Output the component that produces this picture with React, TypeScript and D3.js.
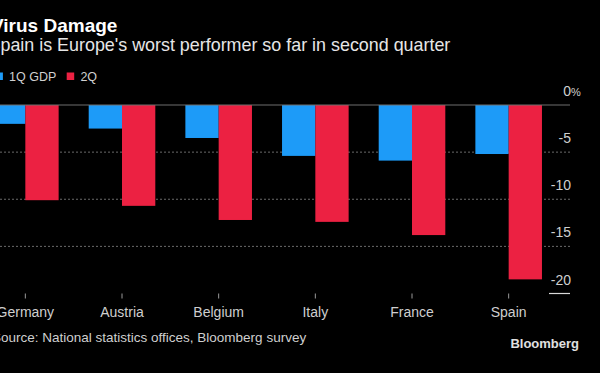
import React, { useEffect, useRef } from "react"
import * as d3 from "d3"

const countries = ["Germany", "Austria", "Belgium", "Italy", "France", "Spain"]
const seriesNames = ["1Q GDP", "2Q"]
const q1Values = [-2.0, -2.5, -3.5, -5.4, -5.9, -5.2]
const q2Values = [-10.1, -10.7, -12.2, -12.4, -13.8, -18.5]
const yTicks = [0, -5, -10, -15, -20]

const BLUE = "#1d9bf8"
const RED = "#ec2142"
const FONT = "'Liberation Sans', Arial, sans-serif"

const App = () => {
    const chartRef = useRef(null)

    useEffect(() => {
        document.body.style.margin = "0"
        renderChart()
        return () => {
            if (chartRef.current) d3.select(chartRef.current).selectAll("*").remove()
        }
    }, [])

    function renderChart() {
        if (!chartRef.current) return
        const width = 600
        const height = 373

        const svg = d3
            .select(chartRef.current)
            .append("svg")
            .attr("width", width)
            .attr("height", height)
            .style("display", "block")
            .style("background", "#000")
            .style("font-family", FONT)

        svg.append("rect").attr("width", width).attr("height", height).attr("fill", "#000")

        // header (the reference is cropped on the left, so text starts off-canvas)
        svg.append("text")
            .attr("x", -9)
            .attr("y", 31.5)
            .attr("fill", "#fff")
            .attr("font-size", "19px")
            .attr("font-weight", 700)
            .text("Virus Damage")
        svg.append("text")
            .attr("x", -11.5)
            .attr("y", 51)
            .attr("fill", "#e6e6e6")
            .attr("font-size", "17.9px")
            .text("Spain is Europe's worst performer so far in second quarter")

        // legend
        const legendItems = [
            { name: seriesNames[0], color: BLUE, x: -4.6 },
            { name: seriesNames[1], color: RED, x: 66.7 },
        ]
        const legend = svg.append("g").selectAll("g").data(legendItems).enter().append("g")
        legend.append("rect")
            .attr("x", (d) => d.x)
            .attr("y", 72.5)
            .attr("width", 7.5)
            .attr("height", 7.5)
            .attr("fill", (d) => d.color)
        legend.append("text")
            .attr("x", (d) => d.x + 13.7)
            .attr("y", 81)
            .attr("fill", "#d0d0d0")
            .attr("font-size", "12.5px")
            .text((d) => d.name)

        // scales
        const x0 = d3.scaleBand().domain(countries).range([-23, 557]).padding(0)
        const x1 = d3.scaleBand().domain(seriesNames).range([0, 66.6]).padding(0)
        const groupX = (c) => x0(c) + x0.bandwidth() / 2 - 33.3
        const y = d3.scaleLinear().domain([0, -20]).range([105, 293.5])
        const gridRight = 570

        // gridlines
        svg.append("g")
            .selectAll("line")
            .data(yTicks.filter((t) => t !== 0 && t !== -20))
            .enter()
            .append("line")
            .attr("x1", 0)
            .attr("x2", gridRight)
            .attr("y1", (d) => y(d))
            .attr("y2", (d) => y(d))
            .attr("stroke", "#6a6a6a")
            .attr("stroke-width", 1)
            .attr("stroke-dasharray", "2,2")

        // bars
        const rows = countries.map((c, i) => ({ country: c, values: [q1Values[i], q2Values[i]] }))
        const groups = svg.append("g")
            .selectAll("g")
            .data(rows)
            .enter()
            .append("g")
            .attr("transform", (d) => "translate(" + groupX(d.country) + ",0)")
        groups.selectAll("rect")
            .data((d) => d.values.map((v, j) => ({ key: seriesNames[j], value: v })))
            .enter()
            .append("rect")
            .attr("x", (d) => x1(d.key))
            .attr("y", y(0))
            .attr("width", x1.bandwidth())
            .attr("height", (d) => y(d.value) - y(0))
            .attr("fill", (d) => (d.key === seriesNames[0] ? BLUE : RED))

        // zero line
        svg.append("line")
            .attr("x1", 0)
            .attr("x2", gridRight)
            .attr("y1", y(0))
            .attr("y2", y(0))
            .attr("stroke", "#6e6e6e")
            .attr("stroke-width", 1.2)

        // short baseline under the y labels
        svg.append("line")
            .attr("x1", 549)
            .attr("x2", gridRight)
            .attr("y1", y(-20))
            .attr("y2", y(-20))
            .attr("stroke", "#d8d8d8")
            .attr("stroke-width", 1.2)

        // y labels
        svg.append("g")
            .selectAll("text")
            .data(yTicks)
            .enter()
            .append("text")
            .attr("x", 571)
            .attr("y", (d) => y(d) - 9)
            .attr("text-anchor", "end")
            .attr("fill", "#cfcfcf")
            .attr("font-size", "14px")
            .text((d) => (d === 0 ? "0" : "-" + Math.abs(d)))
        svg.append("text")
            .attr("x", 571)
            .attr("y", y(0) - 9)
            .attr("fill", "#cfcfcf")
            .attr("font-size", "11px")
            .text("%")

        // x ticks and labels
        svg.append("g")
            .selectAll("line")
            .data(countries)
            .enter()
            .append("line")
            .attr("x1", (d) => x0(d) + x0.bandwidth() / 2)
            .attr("x2", (d) => x0(d) + x0.bandwidth() / 2)
            .attr("y1", 293.5)
            .attr("y2", 298.5)
            .attr("stroke", "#999")
            .attr("stroke-width", 1)
        svg.append("g")
            .selectAll("text")
            .data(countries)
            .enter()
            .append("text")
            .attr("x", (d) => x0(d) + x0.bandwidth() / 2)
            .attr("y", 317)
            .attr("text-anchor", "middle")
            .attr("fill", "#cfcfcf")
            .attr("font-size", "14px")
            .text((d) => d)

        // footer
        svg.append("text")
            .attr("x", -8)
            .attr("y", 341.7)
            .attr("fill", "#cfcfcf")
            .attr("font-size", "13.5px")
            .text("Source: National statistics offices, Bloomberg survey")
        svg.append("text")
            .attr("x", 579)
            .attr("y", 347.7)
            .attr("text-anchor", "end")
            .attr("fill", "#e0e0e0")
            .attr("font-size", "13px")
            .attr("font-weight", 700)
            .text("Bloomberg")
    }

    return (
        <div
            ref={chartRef}
            style={{ position: "absolute", left: 0, top: 0, width: "600px", height: "373px", background: "#000" }}
        />
    )
}

export default App
